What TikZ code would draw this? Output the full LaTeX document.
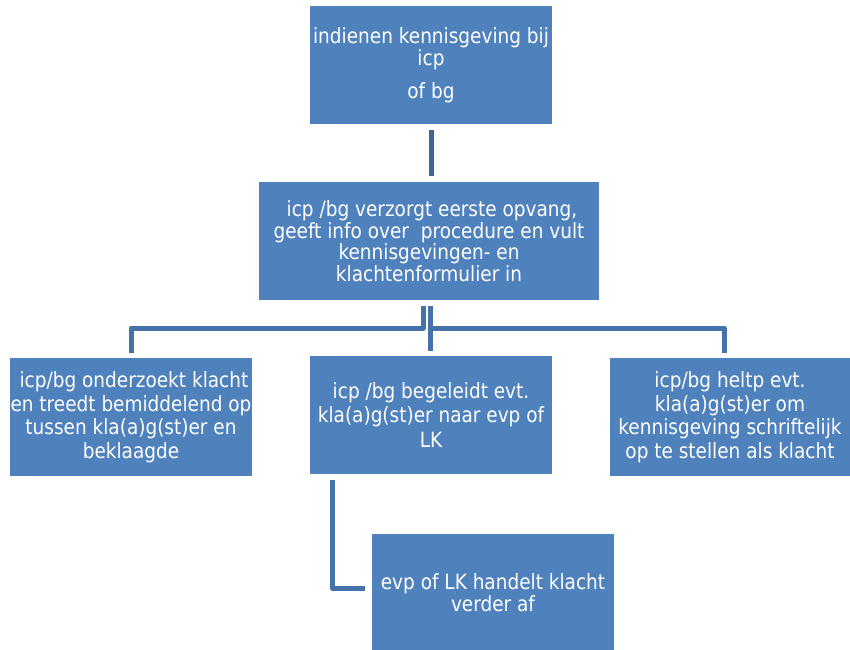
\documentclass[tikz,border=0pt]{standalone}
\usepackage{fontspec}
\setmainfont[FakeStretch=0.88]{DejaVu Sans}
\usetikzlibrary{calc}
\definecolor{boxblue}{RGB}{79,129,189}
\definecolor{linedark}{RGB}{60,100,150}
\definecolor{lineblue}{RGB}{70,114,172}
\tikzset{
  stepbox/.style={rectangle, fill=boxblue, draw=none, text=white, align=center,
    inner sep=0pt, minimum height=118pt,
    font=\fontsize{21}{23.5}\selectfont},
  conn/.style={draw=lineblue, line width=5pt, line join=round},
}
\begin{document}
\begin{tikzpicture}[x=1pt,y=-1pt]
\useasboundingbox (0,0) rectangle (850,649);
\fill[white] (0,0) rectangle (850,649);

\node[stepbox, minimum width=242pt, font=\fontsize{21}{22}\selectfont] (top) at (431,65)
  {indienen kennisgeving bij\\icp\\[11pt]of bg};
\node[stepbox, minimum width=340pt, font=\fontsize{21}{21.5}\selectfont] (opvang) at (429,241)
  {\ icp /bg verzorgt eerste opvang,\\geeft info over\ \ procedure en vult\\kennisgevingen- en\\klachtenformulier in};
\node[stepbox, minimum width=242pt] (links) at (131,417)
  {\ icp/bg onderzoekt klacht\\en treedt bemiddelend op\\tussen kla(a)g(st)er en\\beklaagde};
\node[stepbox, minimum width=242pt, font=\fontsize{21}{24.5}\selectfont] (midden) at (431,415)
  {icp /bg begeleidt evt.\\kla(a)g(st)er naar evp of\\LK};
\node[stepbox, minimum width=240pt] (rechts) at (730,417)
  {icp/bg heltp evt.\\kla(a)g(st)er om\\kennisgeving schriftelijk\\op te stellen als klacht};
\node[stepbox, minimum width=242pt, font=\fontsize{21}{22}\selectfont] (onder) at (493,593)
  {evp of LK handelt klacht\\verder af};

\coordinate (busL) at (131,328);
\coordinate (busR) at (724,328);
\coordinate (elbow) at (332,588);

\draw[conn, draw=linedark, shorten <=6pt, shorten >=6pt] (top.south) -- (top.south |- opvang.north);
\draw[conn, shorten >=5pt] ([xshift=-6pt,yshift=-6pt]opvang.south) |- (busL) -- (busL |- links.north);
\draw[conn, shorten >=5pt] ([xshift=1pt,yshift=-6pt]opvang.south) |- (busR) -- (busR |- rechts.north);
\draw[conn, shorten <=6pt, shorten >=5pt] ([xshift=1pt]opvang.south) -- ([xshift=1pt]opvang.south |- midden.north);
\draw[conn, shorten >=7pt] ([xshift=-99pt,yshift=-6pt]midden.south) |- (elbow) -- (elbow -| onder.west);
\end{tikzpicture}
\end{document}
